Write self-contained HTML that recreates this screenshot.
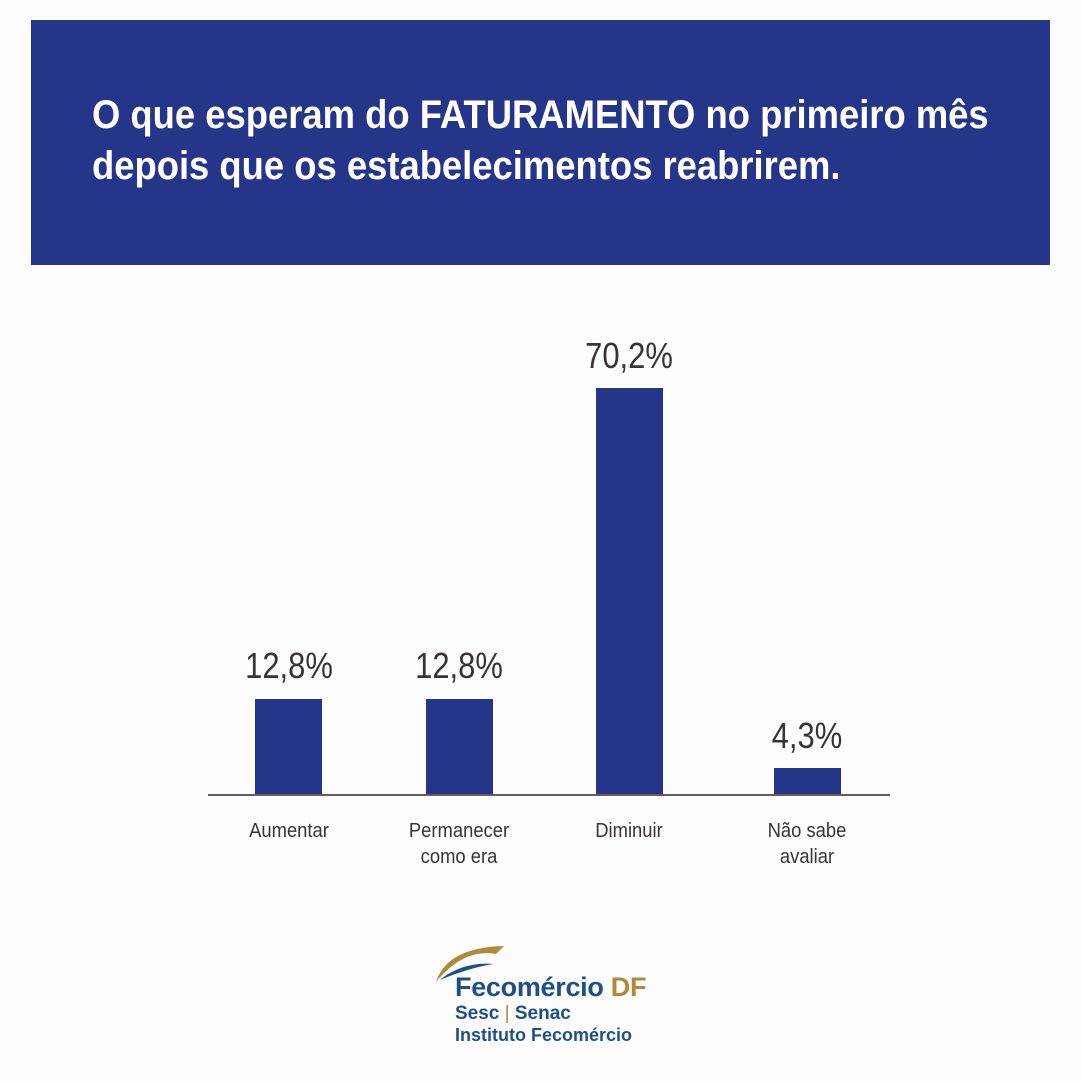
<!DOCTYPE html>
<html><head><meta charset="utf-8"><style>
body{margin:0;width:1081px;height:1081px;background:#fdfdfd;position:relative;overflow:hidden;font-family:"Liberation Sans",sans-serif;}
.hdr{position:absolute;left:31px;top:20px;width:1019px;height:245px;background:#25358a;}
.t{position:absolute;left:92px;top:90px;color:#fff;font-weight:bold;font-size:40px;line-height:51px;white-space:nowrap;transform:scaleX(0.91);transform-origin:0 0}
.bar{position:absolute;background:#25358a;width:67px}
.v{position:absolute;width:160px;text-align:center;font-size:36px;color:#3a3335;transform:scaleX(0.86)}
.l{position:absolute;width:160px;text-align:center;font-size:20px;line-height:26px;color:#3a3335;transform:scaleX(0.92)}
.ax{position:absolute;left:208px;top:794px;width:682px;height:2px;background:#6b5a55}
</style></head><body>
<div class="hdr"></div>
<div class="t">O que esperam do FATURAMENTO no primeiro mês<br>depois que os estabelecimentos reabrirem.</div>
<div class="bar" style="left:255px;top:699px;height:96px"></div>
<div class="bar" style="left:426px;top:699px;height:96px"></div>
<div class="bar" style="left:596px;top:388px;height:407px"></div>
<div class="bar" style="left:774px;top:768px;height:27px"></div>
<div class="ax"></div>
<div class="v" style="left:209px;top:645px">12,8%</div>
<div class="v" style="left:379px;top:645px">12,8%</div>
<div class="v" style="left:549px;top:335px">70,2%</div>
<div class="v" style="left:727px;top:715px">4,3%</div>
<div class="l" style="left:209px;top:818px">Aumentar</div>
<div class="l" style="left:379px;top:818px">Permanecer<br>como era</div>
<div class="l" style="left:549px;top:818px">Diminuir</div>
<div class="l" style="left:727px;top:818px">Não sabe<br>avaliar</div>
<svg style="position:absolute;left:434px;top:942px" width="80" height="40" viewBox="0 0 80 40">
<path d="M2 40 C10 15 35 5 70 4 L62 12 C40 8 20 18 2 40Z" fill="#b08a3a"/>
<path d="M6 38 C20 26 40 20 60 22 C45 24 25 30 6 38Z" fill="#1f4f8a"/>
</svg>
<div style="position:absolute;left:455px;top:972px;font-weight:bold;font-size:27px;color:#1f4f8a;letter-spacing:-0.3px">Fecomércio <span style="color:#b08a3a">DF</span></div>
<div style="position:absolute;left:455px;top:1003px;font-weight:bold;font-size:19px;color:#1f4f8a">Sesc <span style="font-weight:normal;color:#b08a3a">|</span> Senac</div>
<div style="position:absolute;left:455px;top:1025px;font-weight:bold;font-size:18px;color:#1f4f8a">Instituto Fecomércio</div>
</body></html>
